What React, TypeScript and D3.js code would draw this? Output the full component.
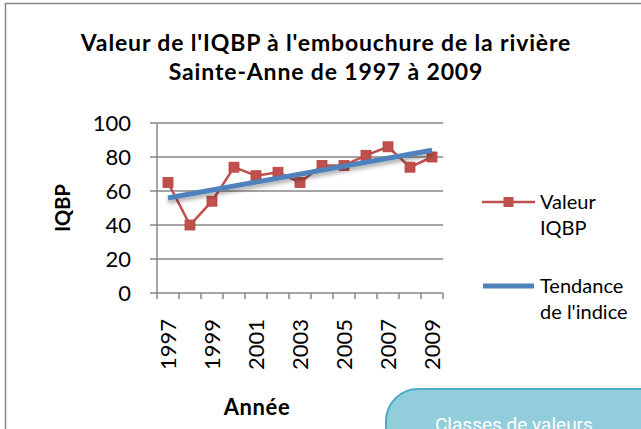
import React from "react";
import * as d3 from "d3";

const years = [1997, 1998, 1999, 2000, 2001, 2002, 2003, 2004, 2005, 2006, 2007, 2008, 2009];
const iqbp = [65, 40, 54, 74, 69, 71, 65, 75, 75, 81, 86, 74, 80];
const yTicks = [0, 20, 40, 60, 80, 100];
const yearLabels = [1997, 1999, 2001, 2003, 2005, 2007, 2009];

const W = 641;
const H = 429;
const FONT = "Lato, 'Open Sans', sans-serif";
const RED = "#C0504D";
const BLUE = "#4F81BD";
const GRID = "#878787";

// linear trend, like the spreadsheet trendline
function trend(xs: number[], ys: number[]) {
  const mx = d3.mean(xs) as number;
  const my = d3.mean(ys) as number;
  const sxy = d3.sum(xs, (x, i) => (x - mx) * (ys[i] - my));
  const sxx = d3.sum(xs, (x) => (x - mx) ** 2);
  const b = sxy / sxx;
  return (x: number) => my + b * (x - mx);
}

export default function App() {
  const x = d3.scaleBand<number>().domain(years).range([157, 443]);
  const y = d3.scaleLinear().domain([0, 100]).range([293, 123]);
  const cx = (yr: number) => (x(yr) as number) + x.bandwidth() / 2;

  const line = d3
    .line<number>()
    .x((_, i) => cx(years[i]))
    .y((d) => y(d));

  const t = trend(years, iqbp);
  const first = years[0];
  const last = years[years.length - 1];

  const edges = years.map((yr) => x(yr) as number).concat([443]);

  return (
    <svg
      width={W}
      height={H}
      style={{ position: "absolute", left: 0, top: 0, background: "#fff" }}
      fontFamily={FONT}
    >
      <defs>
        <filter id="shadow" x="-10%" y="-50%" width="120%" height="300%">
          <feDropShadow dx="0" dy="3" stdDeviation="2" floodColor="#000" floodOpacity="0.35" />
        </filter>
      </defs>

      {/* chart frame */}
      <rect x={5.5} y={3.5} width={700} height={500} fill="#fff" stroke={GRID} strokeWidth={1.5} />

      {/* title */}
      <g fontSize={23} fontWeight="bold" fill="#000" textAnchor="middle" letterSpacing={0.85}>
        <text x={326} y={51}>Valeur de l'IQBP à l'embouchure de la rivière</text>
        <text x={326} y={80}>Sainte-Anne de 1997 à 2009</text>
      </g>

      {/* gridlines + y axis */}
      {yTicks.map((v) => (
        <g key={v}>
          <line x1={150} x2={443} y1={y(v)} y2={y(v)} stroke={GRID} strokeWidth={1.5} />
          <text x={131} y={y(v)} dy="0.36em" textAnchor="end" fontSize={22} fill="#000">
            {v}
          </text>
        </g>
      ))}
      <line x1={157} x2={157} y1={y(100)} y2={y(0)} stroke={GRID} strokeWidth={1.5} />

      {/* x ticks */}
      {edges.map((ex, i) => (
        <line key={i} x1={ex} x2={ex} y1={y(0)} y2={y(0) + 6} stroke={GRID} strokeWidth={1.5} />
      ))}
      {yearLabels.map((yr) => (
        <text
          key={yr}
          transform={`translate(${cx(yr)},319) rotate(-90)`}
          textAnchor="end"
          dy="0.36em"
          fontSize={22}
          fill="#000"
        >
          {yr}
        </text>
      ))}

      {/* axis titles */}
      <text transform="translate(63,208) rotate(-90)" textAnchor="middle" dy="0.36em" fontSize={20} fontWeight="bold">
        IQBP
      </text>
      <text x={257} y={407} textAnchor="middle" dy="0.36em" fontSize={22} fontWeight="bold" letterSpacing={0.6}>
        Année
      </text>

      {/* data series */}
      <path d={line(iqbp) as string} fill="none" stroke={RED} strokeWidth={2.5} />
      {iqbp.map((v, i) => (
        <rect key={i} x={cx(years[i]) - 5} y={y(v) - 5} width={10} height={10} fill={RED} stroke="#B8433F" strokeWidth={0.8} />
      ))}

      {/* trend */}
      <line
        x1={cx(first)}
        y1={y(t(first))}
        x2={cx(last)}
        y2={y(t(last))}
        stroke={BLUE}
        strokeWidth={5}
        filter="url(#shadow)"
      />

      {/* legend */}
      <line x1={482} x2={535} y1={202} y2={202} stroke={RED} strokeWidth={2.5} />
      <rect x={503.5} y={197} width={10} height={10} fill={RED} />
      <g fontSize={20} fill="#000">
        <text x={540} y={202} dy="0.36em">Valeur</text>
        <text x={540} y={228} dy="0.36em">IQBP</text>
        <text x={540} y={286} dy="0.36em">Tendance</text>
        <text x={540} y={312} dy="0.36em">de l'indice</text>
      </g>
      <line x1={483} x2={534} y1={286} y2={286} stroke={BLUE} strokeWidth={5} />

      {/* rounded call-out box */}
      <rect x={386} y={389} width={320} height={120} rx={32} ry={32} fill="#92CDDC" stroke="#4BACC6" strokeWidth={2} />
      <text x={435} y={431} fontSize={19} fill="#fff" fontFamily="Roboto, sans-serif">
        Classes de valeurs
      </text>
    </svg>
  );
}
